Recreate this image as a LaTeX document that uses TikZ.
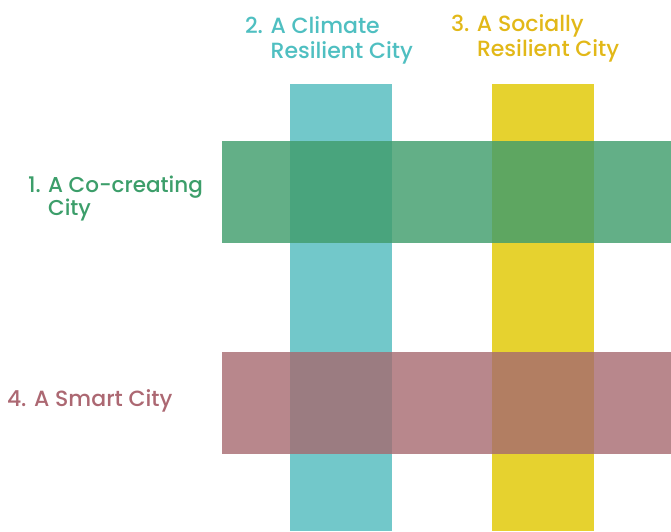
\documentclass[tikz,border=0pt]{standalone}
\usepackage{fontspec}
\setmainfont{Poppins}[UprightFont=* Medium]
\definecolor{teal1}{HTML}{72C8CA}
\definecolor{yel1}{HTML}{E6D22F}
\definecolor{grn1}{HTML}{419D6D}
\definecolor{pnk1}{HTML}{A6696F}
\definecolor{tealtxt}{HTML}{4FBFC1}
\definecolor{yeltxt}{HTML}{E2B818}
\definecolor{grntxt}{HTML}{3C9E6A}
\definecolor{pnktxt}{HTML}{AC6872}
\begin{document}
\begin{tikzpicture}[x=1pt,y=-1pt,
  bar/.style={draw=none,inner sep=0pt,outer sep=0pt,rectangle},
  vbar/.style={bar,minimum width=102pt,minimum height=447pt,anchor=north west},
  hbar/.style={bar,minimum width=449pt,minimum height=102pt,anchor=north west,fill opacity=0.82},
  lbl/.style={inner sep=0pt,outer sep=0pt,anchor=base west,align=left,font=\fontsize{22}{25}\selectfont}]
\useasboundingbox (0,0) rectangle (671,531);
\node[vbar,fill=teal1] (climate) at (290,84) {};
\node[vbar,fill=yel1] (social) at (492,84) {};
\node[hbar,fill=grn1] (cocreate) at (222,141) {};
\node[hbar,fill=pnk1,fill opacity=0.8] (smart) at (222,352) {};
\node[lbl,text=tealtxt] (tclimate) at (245,58) {2. A Climate\\\hphantom{2. }Resilient City};
\node[lbl,text=yeltxt] (tsocial) at (451,56) {3. A Socially\\\hphantom{3. }Resilient City};
\node[lbl,text=grntxt,font=\fontsize{21.5}{23}\selectfont] (tcocreate) at (28,215) {1. A Co-creating\\\hphantom{1. }City};
\node[lbl,text=pnktxt] (tsmart) at (7,406) {4. A Smart City};
\end{tikzpicture}
\end{document}
